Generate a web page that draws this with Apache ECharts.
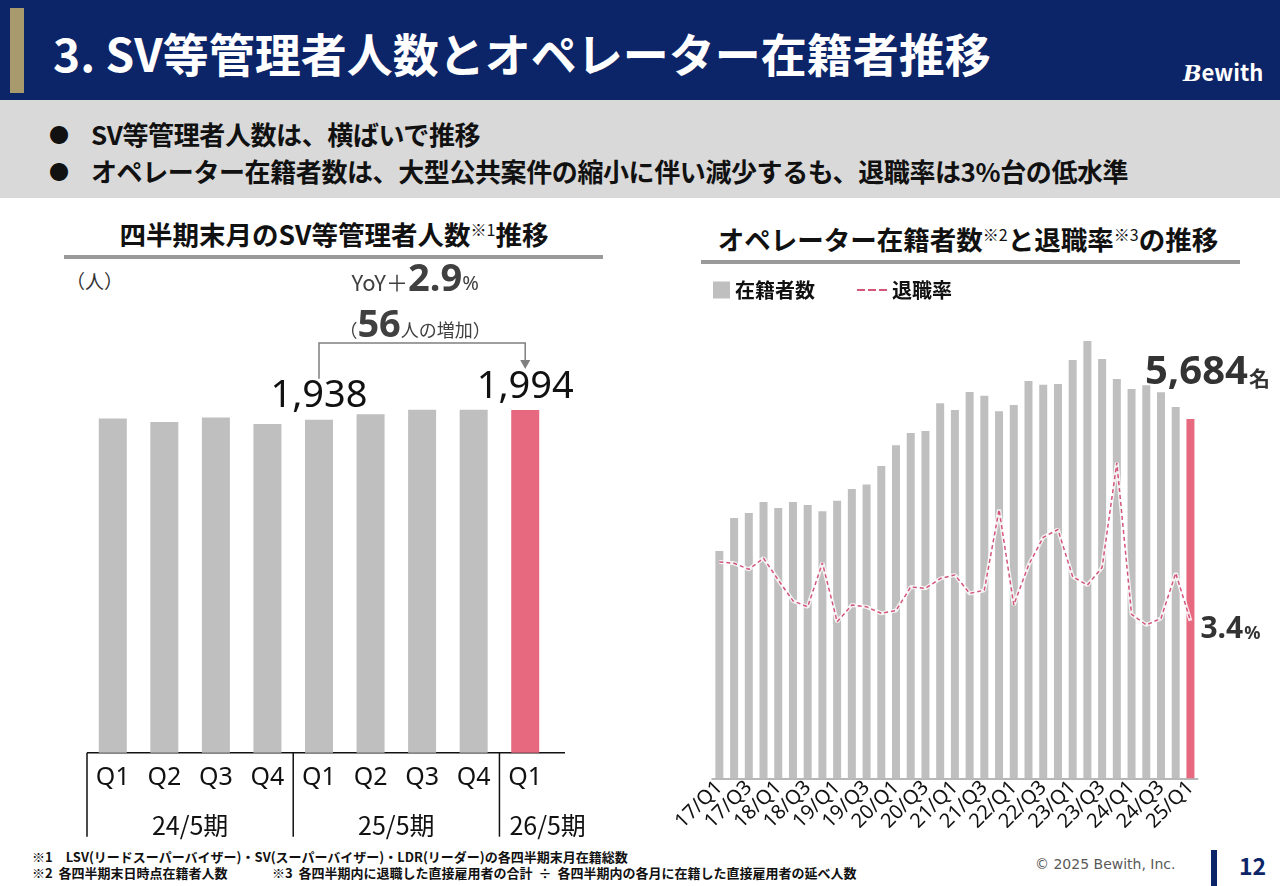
<!DOCTYPE html>
<html>
<head>
<meta charset="utf-8">
<script src="https://cdn.jsdelivr.net/npm/echarts@6/dist/echarts.min.js"></script>
<style>
  body { margin:0; width:1280px; height:886px; position:relative; overflow:hidden; background:#fff;
         font-family:"Noto Sans CJK JP","Noto Sans",sans-serif; color:#111; }
  .abs { position:absolute; white-space:nowrap; }
  #head { left:0; top:0; width:1280px; height:100px; background:#0c2468; }
  #goldbar { left:10px; top:8px; width:14px; height:85px; background:#a89a6c; }
  #title { left:53px; top:22px; font-size:46px; font-weight:bold; color:#fff; line-height:60px; }
  #logo { left:1183px; top:57px; font-size:22px; font-weight:bold; color:#fff; line-height:28px; }
  #logo span { font-family:"DejaVu Serif",serif; font-style:italic; }
  #sumbox { left:0; top:100px; width:1280px; height:98px; background:#d9d9d9; }
  .bul { left:49px; font-size:26px; font-weight:bold; line-height:34px; letter-spacing:-0.4px; }
  .bul b { font-size:20px; display:inline-block; width:42px; vertical-align:2px; letter-spacing:0; }
  .ptitle { font-size:26.5px; font-weight:bold; line-height:34px; transform:translateX(-50%); }
  .ptitle sup { font-size:16px; font-weight:normal; vertical-align:9px; line-height:0; }
  .rule { height:4px; background:#9a9a9a; }
  #unit { left:66px; top:268px; font-size:19px; line-height:26px; color:#333; }
  .fn { font-size:13px; font-weight:bold; line-height:16px; }
  #copy { left:1035px; top:856px; font-size:14px; color:#595959; font-family:"DejaVu Sans",sans-serif; }
  #pgbar { left:1211px; top:850px; width:6px; height:36px; background:#0c2468; }
  #pgno { left:1239px; top:849px; font-size:23px; font-weight:bold; color:#0c2468; line-height:32px; }
  #chart { position:absolute; left:0; top:0; width:1280px; height:886px; }
</style>
</head>
<body>
<div class="abs" id="head"></div>
<div class="abs" id="goldbar"></div>
<div class="abs" id="title">3. SV等管理者人数とオペレーター在籍者推移</div>
<div class="abs" id="logo"><span>B</span>ewith</div>
<div class="abs" id="sumbox"></div>
<div class="abs bul" style="top:117px"><b>●</b>SV等管理者人数は、横ばいで推移</div>
<div class="abs bul" style="top:154px"><b>●</b>オペレーター在籍者数は、大型公共案件の縮小に伴い減少するも、退職率は3%台の低水準</div>

<div class="abs ptitle" style="left:334px;top:217px">四半期末月のSV等管理者人数<sup>※1</sup>推移</div>
<div class="abs rule" style="left:64px;top:255px;width:539px"></div>
<div class="abs ptitle" style="left:968px;top:222px">オペレーター在籍者数<sup>※2</sup>と退職率<sup>※3</sup>の推移</div>
<div class="abs rule" style="left:701px;top:260px;width:539px"></div>
<div class="abs" id="unit">（人）</div>

<div class="abs fn" style="left:32px;top:849px">※1　LSV(リードスーパーバイザー)・SV(スーパーバイザー)・LDR(リーダー)の各四半期末月在籍総数</div>
<div class="abs fn" style="left:32px;top:865px">※2&nbsp;&nbsp;各四半期末日時点在籍者人数</div>
<div class="abs fn" style="left:272px;top:865px">※3&nbsp;&nbsp;各四半期内に退職した直接雇用者の合計&nbsp;&nbsp;÷&nbsp;&nbsp;各四半期内の各月に在籍した直接雇用者の延べ人数</div>
<div class="abs" id="copy">© 2025 Bewith, Inc.</div>
<div class="abs" id="pgbar"></div>
<div class="abs" id="pgno">12</div>

<div id="chart"></div>

<script>
// ---------------------------------------------------
// データ
// ---------------------------------------------------
const svQuarters = ['Q1','Q2','Q3','Q4','Q1','Q2','Q3','Q4','Q1'];
const svPeriods = ['24/5期','25/5期','26/5期'];
const svCounts = [1944,1924,1950,1912,1938,1970,1995,1996,1994];
const svYoY = '2.9';
const svIncrease = '56';

const opQuarters = ['17/Q1','17/Q2','17/Q3','17/Q4','18/Q1','18/Q2','18/Q3','18/Q4',
  '19/Q1','19/Q2','19/Q3','19/Q4','20/Q1','20/Q2','20/Q3','20/Q4',
  '21/Q1','21/Q2','21/Q3','21/Q4','22/Q1','22/Q2','22/Q3','22/Q4',
  '23/Q1','23/Q2','23/Q3','23/Q4','24/Q1','24/Q2','24/Q3','24/Q4','25/Q1'];
const opCounts = [3596,4118,4197,4371,4276,4371,4324,4224,4392,4577,
  4646,4941,5268,5463,5494,5932,5827,6111,6053,5806,
  5906,6285,6227,6238,6618,6918,6633,6317,6159,6217,
  6106,5874,5684];
const opRates = [4.67,4.64,4.51,4.75,4.28,3.83,3.70,4.65,3.38,3.74,
  3.70,3.56,3.62,4.13,4.10,4.31,4.39,3.99,4.06,5.80,
  3.74,4.60,5.20,5.37,4.35,4.17,4.55,6.81,3.54,3.31,
  3.45,4.43,3.40];

const GRAY = '#bfbfbf';
const PINK = '#e6697f';
const RATE = '#d4557a';
const FONT = '"Noto Sans","Noto Sans CJK JP",sans-serif';

const chart = echarts.init(document.getElementById('chart'));

const lastSv = svCounts.length - 1;
const lastOp = opCounts.length - 1;

const svData = svCounts.map((v, i) => ({
  value: v,
  itemStyle: { color: i === lastSv ? PINK : GRAY },
  label: { show: i === 4 || i === lastSv }
}));

const opData = opCounts.map((v, i) => ({
  value: v,
  itemStyle: { color: i === lastOp ? PINK : GRAY },
  label: { show: i === lastOp }
}));

const rateData = opRates.map((v, i) => ({
  value: v,
  label: { show: i === lastOp }
}));

chart.setOption({
  animation: false,
  grid: [
    { left: 87, top: 409, width: 464, height: 343.7 },
    { left: 712, top: 335.8, width: 485.8, height: 442.5 }
  ],
  xAxis: [
    { type: 'category', gridIndex: 0, data: svQuarters,
      axisLine: { show: false }, axisTick: { show: false },
      axisLabel: { fontSize: 25, color: '#111', margin: 13, fontFamily: FONT } },
    { type: 'category', gridIndex: 1, data: opQuarters,
      axisLine: { lineStyle: { color: '#a0a0a0', width: 1.5 } },
      axisTick: { interval: 0, length: 5, lineStyle: { color: '#a0a0a0', width: 1.5 } },
      axisLabel: { interval: 1, rotate: 45, fontSize: 20, color: '#111', margin: 6, fontFamily: FONT } }
  ],
  yAxis: [
    { type: 'value', gridIndex: 0, min: 0, max: 2000, show: false },
    { type: 'value', gridIndex: 1, min: 0, max: 7000, show: false },
    { type: 'value', gridIndex: 1, min: 0, max: 9.55, show: false }
  ],
  legend: [
    { data: ['在籍者数'], left: 713, top: 280, padding: 0, icon: 'rect',
      itemWidth: 17, itemHeight: 17,
      textStyle: { fontSize: 20, fontWeight: 'bold', color: '#111', fontFamily: '"Noto Sans CJK JP",sans-serif' } },
    { data: ['退職率'], left: 857, top: 280, padding: 0,
      icon: 'path://M0,0h8v2h-8zM11,0h8v2h-8zM22,0h8v2h-8z',
      itemWidth: 30, itemHeight: 2, lineStyle: { width: 0 },
      textStyle: { fontSize: 20, fontWeight: 'bold', color: '#111', fontFamily: '"Noto Sans CJK JP",sans-serif' } }
  ],
  series: [
    { type: 'bar', xAxisIndex: 0, yAxisIndex: 0, data: svData, barWidth: 28,
      label: { position: 'top', distance: 4, fontSize: 38, color: '#111', fontFamily: FONT,
               formatter: p => p.value.toLocaleString('en-US') } },
    { name: '在籍者数', type: 'bar', xAxisIndex: 1, yAxisIndex: 1, data: opData, barWidth: 8,
      itemStyle: { color: GRAY },
      label: { position: 'top', distance: 26, offset: [17, 0],
               formatter: p => '{n|' + p.value.toLocaleString('en-US') + '}{u|名}',
               rich: {
                 n: { fontSize: 40, fontWeight: 'bold', color: '#333', fontFamily: FONT },
                 u: { fontSize: 21, fontWeight: 'bold', color: '#333', fontFamily: '"Noto Sans CJK JP",sans-serif', padding: [10, 0, 0, 1] }
               } } },
    { type: 'line', xAxisIndex: 1, yAxisIndex: 2, data: opRates, symbol: 'none', silent: true,
      lineStyle: { color: '#fff', width: 4, opacity: 0.8 }, z: 3 },
    { name: '退職率', type: 'line', xAxisIndex: 1, yAxisIndex: 2, data: rateData,
      symbol: 'circle', symbolSize: 0.01, showSymbol: true,
      color: RATE, lineStyle: { color: RATE, width: 1.5, type: [4, 3] }, z: 4,
      label: { position: 'right', distance: 10, offset: [0, 9],
               formatter: p => '{n|' + p.value.toFixed(1) + '}{u|%}',
               rich: {
                 n: { fontSize: 30, fontWeight: 'bold', color: '#333', fontFamily: FONT },
                 u: { fontSize: 18, fontWeight: 'bold', color: '#333', fontFamily: FONT, padding: [8, 0, 0, 1] }
               } } }
  ]
});

// ---------------------------------------------------
// 左グラフの区切り線・期ラベル・増加の矢印
// ---------------------------------------------------
const px = (i, v) => chart.convertToPixel({ gridIndex: 0 }, [i, v]);
const band = px(1, 0)[0] - px(0, 0)[0];
const baseY = px(0, 0)[1];
const xs = svCounts.map((v, i) => px(i, v)[0]);
const tops = svCounts.map((v, i) => px(i, v)[1]);

const divX = [xs[0] - band / 2, xs[3] + band / 2, xs[7] + band / 2];
const lineStyle = { stroke: '#111', lineWidth: 1.5 };
const graphics = [];

graphics.push({ type: 'line', shape: { x1: divX[0], y1: baseY, x2: xs[lastSv] + band / 2 + 14, y2: baseY }, style: lineStyle });
divX.forEach(x => graphics.push({ type: 'line', shape: { x1: x, y1: baseY, x2: x, y2: baseY + 84 }, style: lineStyle }));

const periodX = [(xs[0] + xs[3]) / 2, (xs[4] + xs[7]) / 2];
svPeriods.forEach((t, i) => {
  const last = i === svPeriods.length - 1;
  graphics.push({ type: 'text', x: last ? divX[2] + 10 : periodX[i], y: baseY + 73,
    style: { text: t, font: '25px "Noto Sans CJK JP",sans-serif', fill: '#111',
             align: last ? 'left' : 'center', verticalAlign: 'middle' } });
});

const bTop = Math.min(tops[4], tops[lastSv]) - 67;
const gray = '#7f7f7f';
graphics.push({ type: 'polyline',
  shape: { points: [[xs[4], tops[4] - 41], [xs[4], bTop], [xs[lastSv], bTop], [xs[lastSv], tops[lastSv] - 49]] },
  style: { stroke: gray, lineWidth: 1.5, fill: null } });
graphics.push({ type: 'polygon',
  shape: { points: [[xs[lastSv] - 5, tops[lastSv] - 50], [xs[lastSv] + 5, tops[lastSv] - 50], [xs[lastSv], tops[lastSv] - 41]] },
  style: { fill: gray } });

const midX = (xs[4] + xs[lastSv]) / 2 - 7;
graphics.push({ type: 'text', x: midX, y: bTop - 63,
  style: { text: '{a|YoY＋}{b|' + svYoY + '}{c|%}', align: 'center', verticalAlign: 'middle',
    rich: {
      a: { fontSize: 22, fill: '#404040', fontFamily: '"Noto Sans CJK JP",sans-serif', padding: [6, 0, 0, 0] },
      b: { fontSize: 38, fill: '#404040', fontWeight: 'bold', fontFamily: FONT },
      c: { fontSize: 20, fill: '#404040', fontFamily: FONT, padding: [8, 0, 0, 0] }
    } } });
graphics.push({ type: 'text', x: midX, y: bTop - 17,
  style: { text: '{a|（}{b|' + svIncrease + '}{a|人の増加）}', align: 'center', verticalAlign: 'middle',
    rich: {
      a: { fontSize: 18, fill: '#404040', fontFamily: '"Noto Sans CJK JP",sans-serif', padding: [8, 0, 0, 0] },
      b: { fontSize: 38, fill: '#404040', fontWeight: 'bold', fontFamily: FONT }
    } } });

chart.setOption({ graphic: graphics });
</script>
</body>
</html>
